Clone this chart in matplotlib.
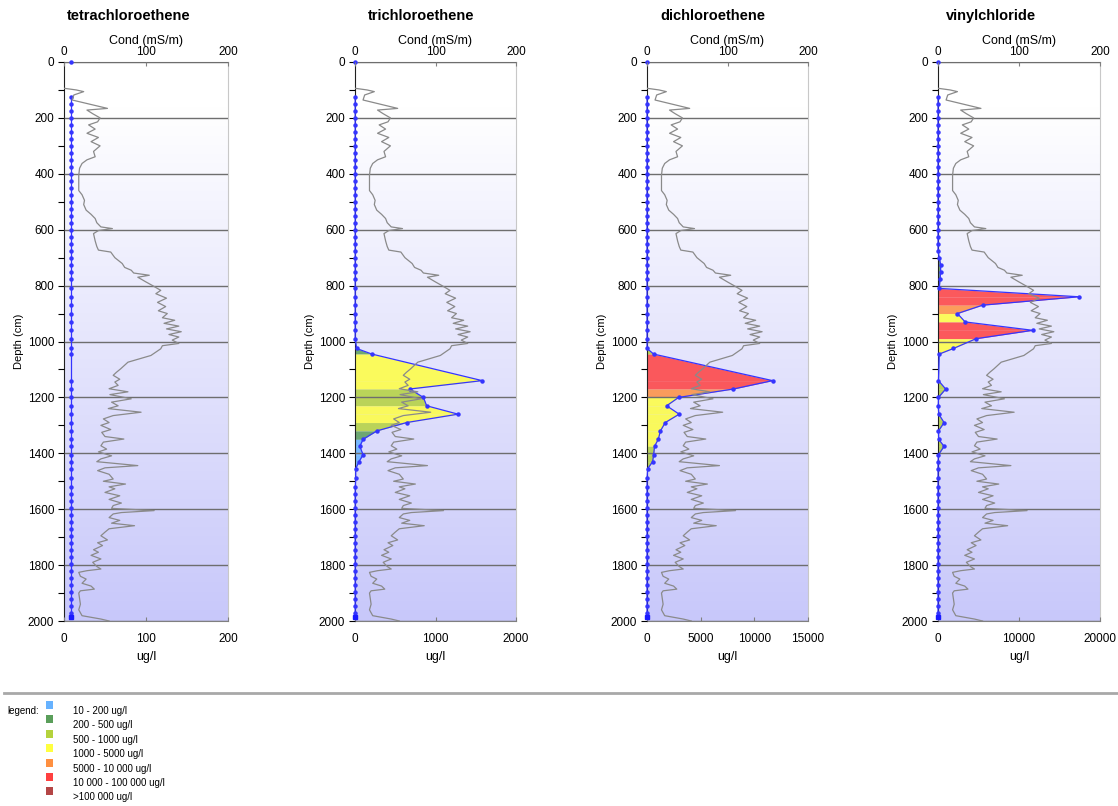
import numpy as np
import matplotlib.pyplot as plt
from matplotlib.colors import LinearSegmentedColormap
from matplotlib.patches import Rectangle
from matplotlib.lines import Line2D

plt.rcParams['font.family'] = ['Liberation Sans', 'DejaVu Sans']

# ---- data ----
compounds = ['tetrachloroethene', 'trichloroethene', 'dichloroethene', 'vinylchloride']
x_max = [200, 2000, 15000, 20000]
x_ticks = [[0, 100, 200], [0, 1000, 2000], [0, 5000, 10000, 15000], [0, 10000, 20000]]

depth = [0,
         125, 150, 175, 200, 225, 250, 275, 300, 325, 350, 375, 400, 425, 450,
         475, 500, 525, 550, 575, 600, 625, 650, 675, 700, 725, 750, 775,
         810, 840, 870, 900, 930, 960, 990,
         1025, 1045, 1140, 1170, 1200, 1230, 1260, 1290, 1320, 1350, 1375, 1405,
         1430, 1455, 1490, 1520,
         1545, 1570, 1595, 1620, 1645, 1670, 1695, 1720, 1745, 1770, 1795, 1820,
         1845, 1870, 1895, 1920, 1945, 1970,
         1985]

pce = [8,
       8, 8, 8, 8, 8, 8, 8, 8, 8, 8, 8, 8, 8, 8,
       8, 8, 8, 8, 8, 8, 8, 8, 8, 8, 8, 8, 8,
       8, 8, 8, 8, 8, 8, 8,
       8, 8, 8, 8, 8, 8, 8, 8, 8, 8, 8, 8,
       8, 8, 8, 8,
       8, 8, 8, 8, 8, 8, 8, 8, 8, 8, 8, 8,
       8, 8, 8, 8, 8, 8,
       8]

tce = [2,
       2, 2, 2, 2, 2, 2, 2, 2, 2, 2, 2, 2, 2, 2,
       2, 2, 2, 2, 2, 2, 2, 2, 2, 2, 2, 2, 2,
       2, 2, 2, 2, 2, 2, 2,
       20, 210, 1580, 680, 850, 890, 1280, 640, 270, 100, 60, 100,
       50, 8, 9, 4,
       2, 2, 2, 2, 2, 2, 2, 2, 2, 2, 2, 2,
       2, 2, 2, 2, 2, 2,
       2]

dce = [3,
       3, 3, 3, 3, 3, 3, 3, 3, 3, 3, 3, 3, 3, 3,
       3, 3, 3, 3, 3, 3, 3, 3, 3, 3, 3, 3, 3,
       3, 3, 3, 3, 3, 3, 3,
       5, 620, 11700, 8050, 2950, 1830, 3000, 1700, 1250, 1050, 700, 620,
       520, 60, 5, 3,
       3, 3, 3, 3, 3, 3, 3, 3, 3, 3, 3, 3,
       3, 3, 3, 3, 3, 3,
       3]

vc = [3,
      3, 3, 3, 3, 3, 3, 3, 3, 3, 3, 3, 3, 3, 3,
      3, 3, 3, 3, 3, 3, 3, 3, 3, 150, 330, 320, 260,
      150, 17400, 5500, 2400, 3350, 11700, 4700,
      1900, 150, 60, 950, 60, 30, 100, 750, 60, 80, 750, 60,
      5, 3, 3, 3,
      3, 3, 3, 3, 3, 3, 3, 3, 3, 3, 3, 3,
      3, 3, 3, 3, 3, 3,
      3]

series = [pce, tce, dce, vc]

cond_depth = [94, 100, 106, 118, 136, 150, 166, 172, 185, 200, 214, 225, 240, 255,
              270, 285, 300, 320, 339, 350, 363, 380, 405, 430, 460, 475, 495, 510,
              530, 545, 560, 575, 590, 596, 603, 614, 640, 660, 673, 680, 700, 721,
              735, 745, 755, 763, 770, 787, 800, 817, 829, 845, 860, 875, 890, 900,
              915, 924, 935, 945, 955, 965, 975, 984, 995, 1007, 1015, 1026, 1050,
              1074, 1098, 1110, 1121, 1135, 1145, 1157, 1169, 1180, 1190, 1205, 1217,
              1230, 1240, 1253, 1265, 1277, 1290, 1300, 1315, 1325, 1340, 1349, 1360,
              1373, 1385, 1395, 1409, 1420, 1430, 1444, 1452, 1462, 1475, 1492, 1500,
              1510, 1520, 1527, 1540, 1552, 1565, 1578, 1587, 1597, 1605, 1612, 1617,
              1630, 1640, 1650, 1659, 1670, 1682, 1695, 1710, 1720, 1730, 1745, 1754,
              1765, 1778, 1790, 1805, 1814, 1820, 1826, 1840, 1850, 1865, 1875, 1886,
              1892, 1900, 1920, 1940, 1960, 1981, 1993, 2000]
cond = [0, 15, 24, 12, 10, 30, 53, 28, 35, 44, 41, 30, 38, 28,
        42, 33, 44, 36, 38, 28, 22, 19, 18, 18, 18, 22, 25, 24,
        27, 33, 38, 40, 45, 59, 42, 36, 38, 40, 42, 57, 62, 71,
        74, 82, 85, 104, 90, 100, 108, 118, 112, 125, 114, 124, 115, 126,
        120, 135, 122, 140, 125, 143, 128, 140, 132, 140, 120, 118, 106,
        78, 69, 64, 60, 68, 62, 66, 55, 78, 56, 82, 58,
        66, 54, 94, 60, 48, 55, 45, 57, 46, 50, 73, 48,
        45, 52, 42, 58, 45, 40, 90, 50, 41, 55, 60, 48,
        75, 55, 62, 50, 68, 55, 70, 60, 58, 110, 70, 60,
        55, 68, 58, 86, 55, 50, 45, 53, 41, 47, 36, 42,
        33, 45, 35, 40, 45, 28, 18, 20, 27, 22, 33, 37,
        20, 18, 19, 20, 18, 22, 45, 55]

class_limits = [10, 200, 500, 1000, 5000, 10000, 100000]
class_colors = ['#66b2ff', '#5a9e5a', '#b4d23c', '#ffff40', '#ff9040', '#ff4040', '#b44646']
class_labels = ['10 - 200 ug/l', '200 - 500 ug/l', '500 - 1000 ug/l', '1000 - 5000 ug/l',
                '5000 - 10 000 ug/l', '10 000 - 100 000 ug/l', '>100 000 ug/l']


def conc_class(v):
    k = None
    for i, lim in enumerate(class_limits):
        if v >= lim:
            k = i
    return k


# ---- layout (pixels) ----
W, H = 1118, 806
lefts = [64, 355, 647, 938]
widths = [164, 161, 161, 162]
top_px, bot_px = 62, 621
title_x = [129, 421, 713, 991]

bg = LinearSegmentedColormap.from_list('bg', [(0, '#ffffff'), (0.08, '#ffffff'), (1, '#c8c8fa')])

fig = plt.figure(figsize=(W / 100, H / 100), dpi=100)

for i, name in enumerate(compounds):
    ax = fig.add_axes([lefts[i] / W, (H - bot_px) / H, widths[i] / W, (bot_px - top_px) / H])
    vals = series[i]

    ax.imshow(np.linspace(0, 1, 256).reshape(-1, 1), cmap=bg, aspect='auto',
              extent=[0, x_max[i], 2000, 0], zorder=0)
    ax.set_xlim(0, x_max[i])
    ax.set_ylim(2000, 0)

    # coloured bands, one per sample interval, coloured by the larger value
    for j in range(1, len(depth) - 1):
        k = conc_class(max(vals[j], vals[j + 1]))
        if k is None:
            continue
        ax.fill_betweenx([depth[j], depth[j + 1]], 0, [vals[j], vals[j + 1]],
                         color=class_colors[k], alpha=0.85, lw=0, zorder=2)

    ax.plot(vals[1:-1], depth[1:-1], color='#3535ff', lw=0.9, marker='o', ms=2.2,
            zorder=4, clip_on=False)
    ax.plot(vals[0], depth[0], 'o', color='#3535ff', ms=2.2, zorder=4, clip_on=False)
    ax.plot(vals[-2:], depth[-2:], color='#3535ff', lw=0.9, zorder=4)
    ax.plot(vals[-1], depth[-1], 's', color='#1a1aff', ms=3.2, zorder=4, clip_on=False)

    ax.set_yticks([0, 200, 400, 600, 800, 1000, 1200, 1400, 1600, 1800, 2000])
    ax.set_yticks([100, 300, 500, 700, 900, 1100, 1300, 1500, 1700, 1900], minor=True)
    ax.yaxis.grid(True, color='#6e6e6e', lw=1.0, zorder=1)
    ax.set_axisbelow(False)
    ax.set_xticks(x_ticks[i])
    ax.set_xticklabels([str(t) for t in x_ticks[i]])
    ax.tick_params(axis='y', which='both', length=4, width=0.8, labelsize=8.5, pad=3)
    ax.tick_params(axis='x', direction='in', length=3, width=0.8, labelsize=8.5, pad=9,
                   color='#808080')
    ax.set_xlabel('ug/l', fontsize=9, labelpad=4)
    ax.set_ylabel('Depth (cm)', fontsize=8, labelpad=3)
    ax.spines['left'].set_color('#202020')
    ax.spines['right'].set_color('#c8c8c8')
    ax.spines['top'].set_color('#808080')
    ax.spines['bottom'].set_color('#808080')

    ax2 = ax.twiny()
    ax2.set_xlim(0, 200)
    ax2.plot(cond, cond_depth, color='#8a8a8a', lw=0.9, zorder=5)
    ax2.set_xticks([0, 100, 200])
    ax2.tick_params(axis='x', direction='in', length=3, labelsize=8.5, pad=3, color='#808080')
    ax2.set_xlabel('Cond (mS/m)', fontsize=9, labelpad=1)
    for s in ax2.spines.values():
        s.set_visible(False)

    fig.text(title_x[i] / W, 1 - 16 / H, name, ha='center', va='center',
             fontsize=10.5, fontweight='bold')

# ---- legend ----
fig.add_artist(Line2D([4 / W, 1], [1 - 693 / H, 1 - 693 / H], transform=fig.transFigure,
                      color='#a8a8a8', lw=2))
fig.text(7 / W, 1 - 711 / H, 'legend:', fontsize=7, va='center')
for k, (c, lab) in enumerate(zip(class_colors, class_labels)):
    yc = 705 + k * 14.4
    fig.add_artist(Rectangle((46 / W, 1 - (yc + 4) / H), 7 / W, 8 / H,
                             transform=fig.transFigure, color=c, lw=0))
    fig.text(73 / W, 1 - (yc + 6) / H, lab, fontsize=7, va='center')

fig.savefig('out.png', dpi=100)
